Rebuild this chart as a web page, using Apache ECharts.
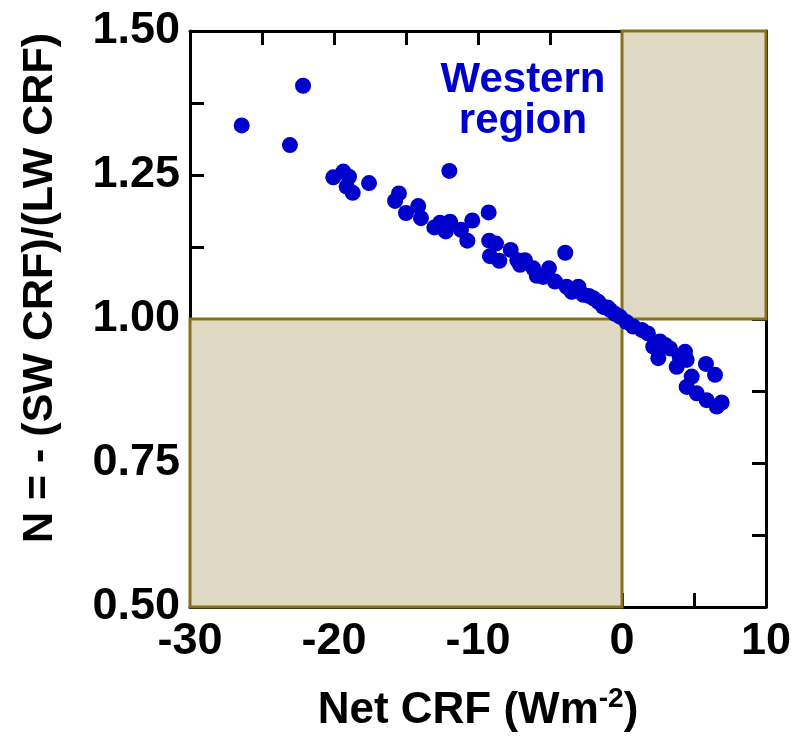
<!DOCTYPE html>
<html>
<head>
<meta charset="utf-8">
<script src="https://cdn.jsdelivr.net/npm/echarts@6/dist/echarts.min.js"></script>
<style>
  html, body { margin: 0; padding: 0; background: #fff; }
  #chart { width: 796px; height: 740px; }
</style>
</head>
<body>
<div id="chart"></div>
<script>
// Net CRF (x) vs N ratio (y), western region
var netCrf = [-26.41, -22.15, -23.06, -11.99, -20.05, -19.35, -18.96, -19.12, -18.70, -17.57,
  -15.49, -15.76, -15.00, -14.15, -13.96, -13.03, -12.64, -12.24, -11.94, -11.18,
  -10.74, -10.40, -9.26, -9.22, -8.75, -9.17, -8.52, -7.73, -7.27, -6.74,
  -7.08, -6.16, -5.92, -5.07, -5.47, -4.65, -3.94, -3.84, -3.49, -3.03,
  -2.69, -2.30, -1.99, -1.65, -1.30, -1.00, -0.83, -0.49, -0.14, 0.30,
  0.78, 1.37, 1.80, 2.64, 2.17, 2.52, 3.00, 3.33, 4.00, 4.38,
  4.49, 3.80, 5.83, 6.46, 4.84, 4.49, 5.19, 5.88, 6.58, 6.92];
var ratioN = [1.336, 1.405, 1.302, 1.257, 1.246, 1.256, 1.247, 1.230, 1.219, 1.236,
  1.218, 1.205, 1.184, 1.196, 1.175, 1.159, 1.167, 1.152, 1.169, 1.155,
  1.136, 1.171, 1.185, 1.136, 1.131, 1.109, 1.101, 1.120, 1.102, 1.102,
  1.094, 1.088, 1.075, 1.088, 1.073, 1.065, 1.115, 1.056, 1.047, 1.056,
  1.042, 1.040, 1.036, 1.030, 1.021, 1.020, 1.016, 1.009, 1.004, 0.995,
  0.987, 0.981, 0.975, 0.961, 0.952, 0.932, 0.955, 0.949, 0.935, 0.943,
  0.929, 0.917, 0.922, 0.903, 0.900, 0.882, 0.871, 0.859, 0.848, 0.855];
// shaded quadrants: [x0, y0, x1, y1]
var shadedBoxes = [[-30, 0.5, 0, 1.0], [0, 1.0, 10, 1.5]];
var regionLabel = 'Western\nregion';

var points = netCrf.map(function (x, i) { return [x, ratioN[i]]; });

var myChart = echarts.init(document.getElementById('chart'));
var font = 'Liberation Sans, Arial, sans-serif';
var axisLine = { show: true, onZero: false, lineStyle: { color: '#000', width: 3 } };
var tick = { show: true, inside: true, length: 14, lineStyle: { color: '#000', width: 3 } };

function yLab(v) {
  var q = v / 0.25;
  return Math.abs(q - Math.round(q)) < 1e-6 ? v.toFixed(2) : '';
}
function xLab(v) {
  return Math.abs(v % 10) < 1e-6 ? String(v) : '';
}

var option = {
  animation: false,
  backgroundColor: '#fff',
  grid: { left: 190, right: 30, top: 31, bottom: 133, containLabel: false, outerBoundsMode: 'none' },
  xAxis: [{
    type: 'value', min: -30, max: 10, interval: 5,
    axisLine: axisLine, axisTick: tick, splitLine: { show: false },
    axisLabel: { formatter: xLab, color: '#000', fontSize: 45, fontWeight: 'bold', fontFamily: font, margin: 12 },
    name: '{a|Net CRF (Wm}{s|-2}{a|)}', nameLocation: 'middle', nameGap: 78,
    nameTextStyle: {
      rich: {
        a: { fontSize: 44, fontWeight: 'bold', fontFamily: font, color: '#000', verticalAlign: 'bottom', lineHeight: 48 },
        s: { fontSize: 28, fontWeight: 'bold', fontFamily: font, color: '#000', verticalAlign: 'top', lineHeight: 48, padding: [0, 0, 22, 0] }
      }
    }
  }, {
    type: 'value', position: 'top', min: -30, max: 10, interval: 5,
    axisLine: axisLine, axisTick: tick, axisLabel: { show: false }, splitLine: { show: false }
  }],
  yAxis: [{
    type: 'value', min: 0.5, max: 1.5, interval: 0.125,
    axisLine: axisLine, axisTick: tick, splitLine: { show: false },
    axisLabel: { formatter: yLab, color: '#000', fontSize: 45, fontWeight: 'bold', fontFamily: font, margin: 10 },
    name: 'N = - (SW CRF)/(LW CRF)', nameLocation: 'middle', nameGap: 128, nameRotate: 90,
    nameTextStyle: { fontSize: 43, fontWeight: 'bold', fontFamily: font, color: '#000', padding: [0, 0, 0, 62] }
  }, {
    type: 'value', position: 'right', min: 0.5, max: 1.5, interval: 0.125,
    axisLine: axisLine, axisTick: tick, axisLabel: { show: false }, splitLine: { show: false }
  }],
  series: [{
    type: 'scatter',
    symbolSize: 16,
    itemStyle: { color: '#0000cc', opacity: 1 },
    data: points,
    markArea: {
      silent: true,
      itemStyle: { color: '#e0dac5', borderColor: '#85711d', borderWidth: 3 },
      data: shadedBoxes.map(function (b) {
        return [{ coord: [b[0], b[1]] }, { coord: [b[2], b[3]] }];
      })
    }
  }],
  graphic: [{
    type: 'text', x: 523, y: 60,
    style: { text: regionLabel, fill: '#0000cc', font: 'bold 42px ' + font, align: 'center', lineHeight: 41 }
  }]
};

myChart.setOption(option);
window.addEventListener('resize', function () { myChart.resize(); });
</script>
</body>
</html>
